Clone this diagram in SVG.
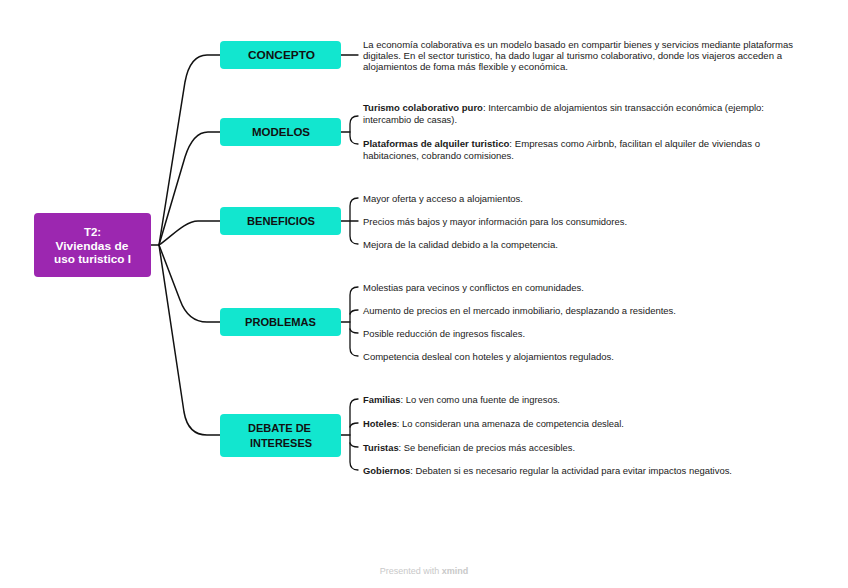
<svg xmlns="http://www.w3.org/2000/svg" width="848" height="588" viewBox="0 0 848 588">
<style>
.bg{fill:#ffffff}
.root rect{fill:#9c27b0}
.root text{fill:#ffffff;font-family:"Liberation Sans",Arial,sans-serif;font-size:11.5px;font-weight:bold;text-anchor:middle}
.main rect{fill:#12e6cf}
.main text{fill:#111111;font-family:"Liberation Sans",Arial,sans-serif;font-size:11.5px;font-weight:bold;text-anchor:middle}
.leaf text{fill:#1a1a1a;font-family:"Liberation Sans",Arial,sans-serif;font-size:9px}
.b{font-weight:bold}
.conn path{fill:none;stroke:#111111;stroke-width:1.5;stroke-linecap:round}
.conn .br{stroke-width:1.3}
.foot{fill:#c9c9c9;font-family:"Liberation Sans",Arial,sans-serif;font-size:9px;text-anchor:middle}
</style>
<rect class="bg" x="0" y="0" width="848" height="588"/>
<g id="connectors" class="conn">
<path d="M151,245 H159"/>
<path d="M159,245 L185,82 Q190,55 207,55 H220"/>
<path d="M159,245 L185,157 Q193,132 208,132 H220"/>
<path d="M159,245 C172,236 185,221 198,221 H220"/>
<path d="M159,245 L180,300 Q188,322 207,322 H220"/>
<path d="M159,245 L184,412 Q188,435 207,435 H220"/>
<path class="br" d="M341,55 H358"/>
<path class="br" d="M341,132 H350"/>
<path class="br" d="M358,116 Q350,116 350,124 V136 Q350,144 358,144"/>
<path class="br" d="M341,221 H358"/>
<path class="br" d="M358,198 Q350,198 350,206 V236 Q350,244 358,244"/>
<path class="br" d="M341,322 H350"/>
<path class="br" d="M358,287 Q350,287 350,295 V348 Q350,356 358,356"/>
<path class="br" d="M358,310 Q351,310 350,314"/>
<path class="br" d="M358,333 Q351,333 350,329"/>
<path class="br" d="M341,435 H350"/>
<path class="br" d="M358,399 Q350,399 350,407 V462 Q350,470 358,470"/>
<path class="br" d="M358,423 Q351,423 350,427"/>
<path class="br" d="M358,447 Q351,447 350,443"/>
</g>
<g id="root" class="root">
<rect x="34" y="213" width="117" height="64" rx="4"/>
<text x="92.5" y="236">T2:</text>
<text x="92" y="249.5" textLength="73" lengthAdjust="spacingAndGlyphs">Viviendas de</text>
<text x="92.5" y="263" textLength="77" lengthAdjust="spacingAndGlyphs">uso turistico I</text>
</g>
<g id="concepto" class="main">
<rect x="220" y="41" width="121" height="28" rx="4"/>
<text x="281.5" y="59" textLength="67" lengthAdjust="spacingAndGlyphs">CONCEPTO</text>
</g>
<g id="modelos" class="main">
<rect x="220" y="118" width="121" height="28" rx="4"/>
<text x="281" y="136" textLength="58" lengthAdjust="spacingAndGlyphs">MODELOS</text>
</g>
<g id="beneficios" class="main">
<rect x="220" y="207" width="121" height="28" rx="4"/>
<text x="281" y="225" textLength="68" lengthAdjust="spacingAndGlyphs">BENEFICIOS</text>
</g>
<g id="problemas" class="main">
<rect x="220" y="308" width="121" height="28" rx="4"/>
<text x="280.5" y="326" textLength="71" lengthAdjust="spacingAndGlyphs">PROBLEMAS</text>
</g>
<g id="debate" class="main">
<rect x="220" y="414" width="121" height="43" rx="4"/>
<text x="279.5" y="432" textLength="63" lengthAdjust="spacingAndGlyphs">DEBATE DE</text>
<text x="281" y="447" textLength="62" lengthAdjust="spacingAndGlyphs">INTERESES</text>
</g>
<g id="concepto-text" class="leaf">
<text x="363" y="47.5" textLength="430" lengthAdjust="spacingAndGlyphs">La economía colaborativa es un modelo basado en compartir bienes y servicios mediante plataformas</text>
<text x="363" y="58.5" textLength="419" lengthAdjust="spacingAndGlyphs">digitales. En el sector turistico, ha dado lugar al turismo colaborativo, donde los viajeros acceden a</text>
<text x="363" y="69.5" textLength="205" lengthAdjust="spacingAndGlyphs">alojamientos de foma más flexible y económica.</text>
</g>
<g id="modelos-1" class="leaf">
<text x="363" y="110.5" textLength="401" lengthAdjust="spacingAndGlyphs"><tspan class="b">Turismo colaborativo puro</tspan>: Intercambio de alojamientos sin transacción económica (ejemplo:</text>
<text x="363" y="122.5" textLength="94" lengthAdjust="spacingAndGlyphs">intercambio de casas).</text>
</g>
<g id="modelos-2" class="leaf">
<text x="363" y="146.5" textLength="397" lengthAdjust="spacingAndGlyphs"><tspan class="b">Plataformas de alquiler turistico</tspan>: Empresas como Airbnb, facilitan el alquiler de viviendas o</text>
<text x="363" y="158.5" textLength="151" lengthAdjust="spacingAndGlyphs">habitaciones, cobrando comisiones.</text>
</g>
<g id="beneficios-1" class="leaf"><text x="363" y="201.5" textLength="160" lengthAdjust="spacingAndGlyphs">Mayor oferta y acceso a alojamientos.</text></g>
<g id="beneficios-2" class="leaf"><text x="363" y="224.5" textLength="264" lengthAdjust="spacingAndGlyphs">Precios más bajos y mayor información para los consumidores.</text></g>
<g id="beneficios-3" class="leaf"><text x="363" y="247.5" textLength="195" lengthAdjust="spacingAndGlyphs">Mejora de la calidad debido a la competencia.</text></g>
<g id="problemas-1" class="leaf"><text x="363" y="290.5" textLength="221" lengthAdjust="spacingAndGlyphs">Molestias para vecinos y conflictos en comunidades.</text></g>
<g id="problemas-2" class="leaf"><text x="363" y="313.5" textLength="313" lengthAdjust="spacingAndGlyphs">Aumento de precios en el mercado inmobiliario, desplazando a residentes.</text></g>
<g id="problemas-3" class="leaf"><text x="363" y="336.5" textLength="162" lengthAdjust="spacingAndGlyphs">Posible reducción de ingresos fiscales.</text></g>
<g id="problemas-4" class="leaf"><text x="363" y="359.5" textLength="251" lengthAdjust="spacingAndGlyphs">Competencia desleal con hoteles y alojamientos regulados.</text></g>
<g id="debate-1" class="leaf"><text x="363" y="402.5" textLength="197" lengthAdjust="spacingAndGlyphs"><tspan class="b">Familias</tspan>: Lo ven como una fuente de ingresos.</text></g>
<g id="debate-2" class="leaf"><text x="363" y="426.5" textLength="261" lengthAdjust="spacingAndGlyphs"><tspan class="b">Hoteles</tspan>: Lo consideran una amenaza de competencia desleal.</text></g>
<g id="debate-3" class="leaf"><text x="363" y="450.5" textLength="212" lengthAdjust="spacingAndGlyphs"><tspan class="b">Turistas</tspan>: Se benefician de precios más accesibles.</text></g>
<g id="debate-4" class="leaf"><text x="363" y="473.5" textLength="369" lengthAdjust="spacingAndGlyphs"><tspan class="b">Gobiernos</tspan>: Debaten si es necesario regular la actividad para evitar impactos negativos.</text></g>
<text class="foot" x="424" y="574">Presented with <tspan font-weight="bold">xmind</tspan></text>
</svg>
